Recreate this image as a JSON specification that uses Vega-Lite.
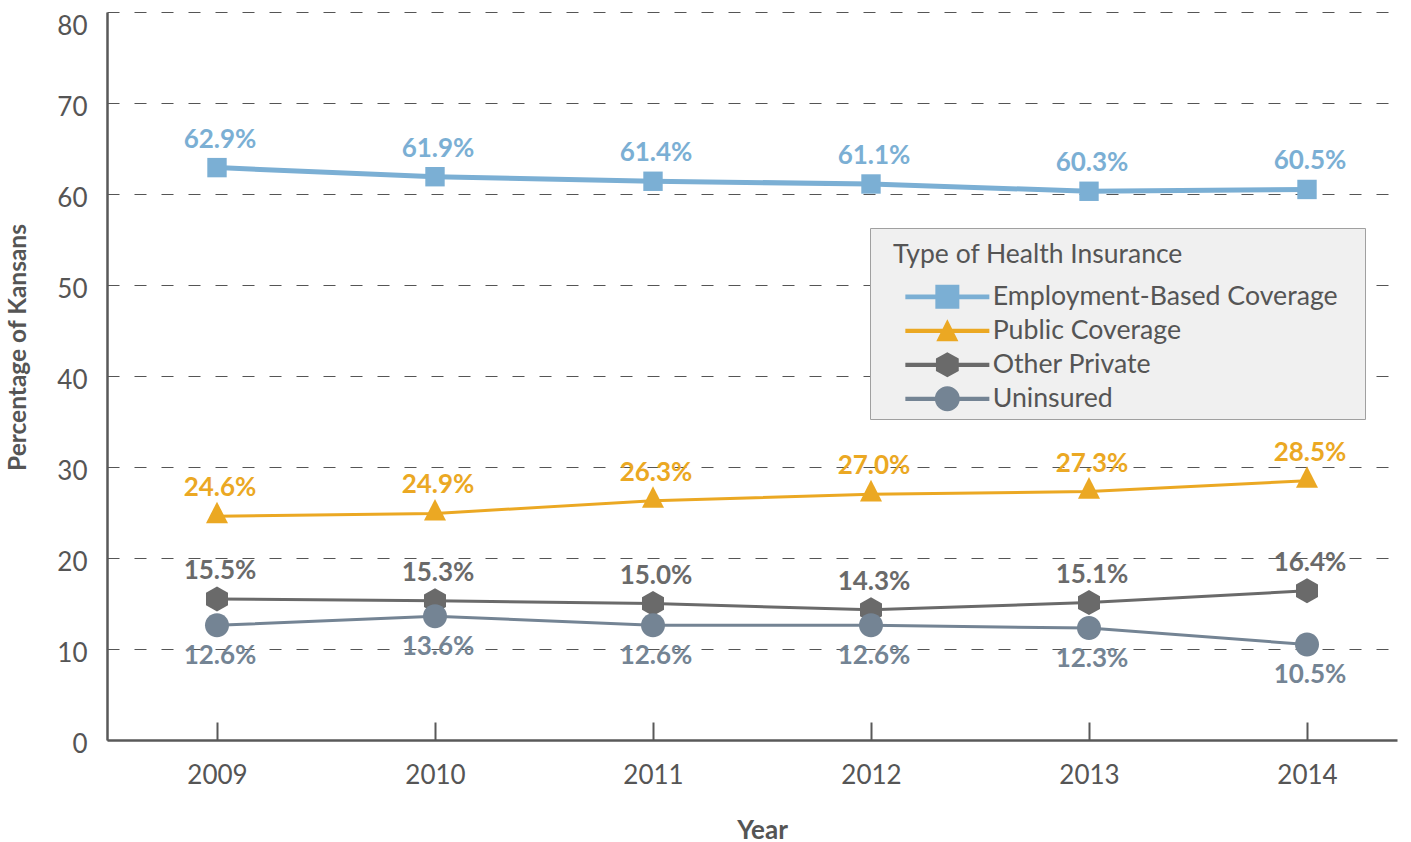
{
  "$schema": "https://vega.github.io/schema/vega-lite/v6.json",
  "width": 1290,
  "height": 728,
  "autosize": {"type": "none"},
  "padding": {"left": 107, "top": 12, "right": 14, "bottom": 102},
  "background": "white",
  "config": {
    "view": {"stroke": null},
    "font": "Lato",
    "axis": {"labelFont": "Lato", "titleFont": "Lato", "labelColor": "#555555", "titleColor": "#555555"}
  },
  "data": {
    "values": [
      {"year": "2009", "type": "Employment-Based Coverage", "value": 62.9},
      {"year": "2010", "type": "Employment-Based Coverage", "value": 61.9},
      {"year": "2011", "type": "Employment-Based Coverage", "value": 61.4},
      {"year": "2012", "type": "Employment-Based Coverage", "value": 61.1},
      {"year": "2013", "type": "Employment-Based Coverage", "value": 60.3},
      {"year": "2014", "type": "Employment-Based Coverage", "value": 60.5},
      {"year": "2009", "type": "Public Coverage", "value": 24.6},
      {"year": "2010", "type": "Public Coverage", "value": 24.9},
      {"year": "2011", "type": "Public Coverage", "value": 26.3},
      {"year": "2012", "type": "Public Coverage", "value": 27.0},
      {"year": "2013", "type": "Public Coverage", "value": 27.3},
      {"year": "2014", "type": "Public Coverage", "value": 28.5},
      {"year": "2009", "type": "Other Private", "value": 15.5},
      {"year": "2010", "type": "Other Private", "value": 15.3},
      {"year": "2011", "type": "Other Private", "value": 15.0},
      {"year": "2012", "type": "Other Private", "value": 14.3},
      {"year": "2013", "type": "Other Private", "value": 15.1},
      {"year": "2014", "type": "Other Private", "value": 16.4},
      {"year": "2009", "type": "Uninsured", "value": 12.6},
      {"year": "2010", "type": "Uninsured", "value": 13.6},
      {"year": "2011", "type": "Uninsured", "value": 12.6},
      {"year": "2012", "type": "Uninsured", "value": 12.6},
      {"year": "2013", "type": "Uninsured", "value": 12.3},
      {"year": "2014", "type": "Uninsured", "value": 10.5}
    ]
  },
  "encoding": {
    "x": {
      "field": "year",
      "type": "ordinal",
      "sort": null,
      "scale": {"type": "point", "padding": 0.4587, "align": 0.55},
      "axis": {
        "title": "Year",
        "titleFontSize": 26,
        "titleFontWeight": "bold",
        "titlePadding": 29,
        "titleX": 655,
        "labelFontSize": 26,
        "labelAngle": 0,
        "labelPadding": 40,
        "tickSize": -18,
        "tickWidth": 2,
        "tickColor": "#595959",
        "domainColor": "#595959",
        "domainWidth": 2.5,
        "grid": false
      }
    },
    "y": {
      "field": "value",
      "type": "quantitative",
      "scale": {"domain": [0, 80], "nice": false, "zero": true},
      "axis": {
        "title": "Percentage of Kansans",
        "titleFontSize": 24.5,
        "titleFontWeight": "bold",
        "titlePadding": 26,
        "titleY": 335,
        "values": [0, 10, 20, 30, 40, 50, 60, 70, 80],
        "labelFontSize": 26,
        "labelPadding": 20,
        "labelBaseline": {"expr": "datum.value == 80 ? 'top' : 'middle'"},
        "labelOffset": {"expr": "datum.value == 80 ? 1 : 4"},
        "ticks": false,
        "domainColor": "#595959",
        "domainWidth": 2.5,
        "grid": true,
        "gridColor": "#555555",
        "gridWidth": 1.2,
        "gridDash": [12, 15]
      }
    },
    "color": {
      "field": "type",
      "type": "nominal",
      "scale": {
        "domain": ["Employment-Based Coverage", "Public Coverage", "Other Private", "Uninsured"],
        "range": ["#7BAFD4", "#EBA823", "#6A6A6A", "#748494"]
      },
      "legend": {
        "title": "Type of Health Insurance",
        "orient": "none",
        "legendX": 763,
        "legendY": 216,
        "padding": 6,
        "fillColor": "#F0F0F0",
        "strokeColor": "#A0A0A0",
        "titleFont": "Lato",
        "titleFontSize": 26.5,
        "titleFontWeight": "normal",
        "titleColor": "#555555",
        "titlePadding": 23,
        "titleLimit": 0,
        "labelFont": "Lato",
        "labelFontSize": 26.7,
        "labelColor": "#555555",
        "labelLimit": 0,
        "labelExpr": "datum.label + '\u00a0\u00a0\u00a0\u200b'",
        "symbolSize": 576,
        "symbolOffset": 58,
        "labelOffset": 32,
        "rowPadding": 6,
        "symbolOpacity": 1,
        "symbolStrokeWidth": 0,
        "encode": {
          "title": {
            "update": {
              "dx": {"value": 17},
              "dy": {"value": 8}
            }
          },
          "symbols": {
            "update": {
              "shape": {"signal": "datum.value === 'Employment-Based Coverage' ? 'M-3.5,-0.2H3.5V0.2H-3.5Z M-1,-1H1V1H-1Z' : datum.value === 'Public Coverage' ? 'M-3.5,-0.18H3.5V0.18H-3.5Z M0,-0.96L0.92,0.875H-0.92Z' : datum.value === 'Other Private' ? 'M-3.5,-0.18H3.5V0.18H-3.5Z M0,-1.04L0.95,-0.52V0.52L0,1.04L-0.95,0.52V-0.52Z' : 'M-3.5,-0.18H3.5V0.18H-3.5Z M1.04,0A1.04,1.04 0 1,1 -1.04,0A1.04,1.04 0 1,1 1.04,0Z'"},
              "fill": {"scale": "color", "field": "value"},
              "strokeWidth": {"value": 0},
              "opacity": {"value": 1}
            }
          }
        }
      }
    }
  },
  "layer": [
    {
      "transform": [{"filter": "datum.type === 'Employment-Based Coverage'"}],
      "mark": {"type": "line", "strokeWidth": 5},
      "encoding": {}
    },
    {
      "transform": [{"filter": "datum.type !== 'Employment-Based Coverage'"}],
      "mark": {"type": "line", "strokeWidth": 3},
      "encoding": {}
    },
    {
      "transform": [{"filter": "datum.type === 'Employment-Based Coverage'"}],
      "mark": {"type": "point", "filled": true, "opacity": 1, "size": 400, "strokeWidth": 0, "shape": "M-0.97,-0.97H0.97V0.97H-0.97Z"}
    },
    {
      "transform": [{"filter": "datum.type === 'Public Coverage'"}],
      "mark": {"type": "point", "filled": true, "opacity": 1, "size": 400, "strokeWidth": 0, "shape": "M0,-1.45L1.1,0.72H-1.1Z"}
    },
    {
      "transform": [{"filter": "datum.type === 'Other Private'"}],
      "mark": {"type": "point", "filled": true, "opacity": 1, "size": 400, "strokeWidth": 0, "shape": "M0,-1.25L1.1,-0.63V0.63L0,1.25L-1.1,0.63V-0.63Z"}
    },
    {
      "transform": [{"filter": "datum.type === 'Uninsured'"}],
      "mark": {"type": "point", "filled": true, "opacity": 1, "size": 400, "strokeWidth": 0, "shape": "M1.2,0A1.2,1.2 0 1,1 -1.2,0A1.2,1.2 0 1,1 1.2,0Z"}
    },
    {
      "transform": [
        {"filter": "datum.type !== 'Uninsured'"},
        {"calculate": "format(datum.value, '.1f') + '%'", "as": "label"}
      ],
      "mark": {"type": "text", "font": "Lato", "fontSize": 26, "fontWeight": "bold", "dy": -28, "dx": 3, "baseline": "middle"},
      "encoding": {"text": {"field": "label"}}
    },
    {
      "transform": [
        {"filter": "datum.type === 'Uninsured'"},
        {"calculate": "format(datum.value, '.1f') + '%'", "as": "label"}
      ],
      "mark": {"type": "text", "font": "Lato", "fontSize": 26, "fontWeight": "bold", "dy": 31, "dx": 3, "baseline": "middle"},
      "encoding": {"text": {"field": "label"}}
    }
  ]
}
